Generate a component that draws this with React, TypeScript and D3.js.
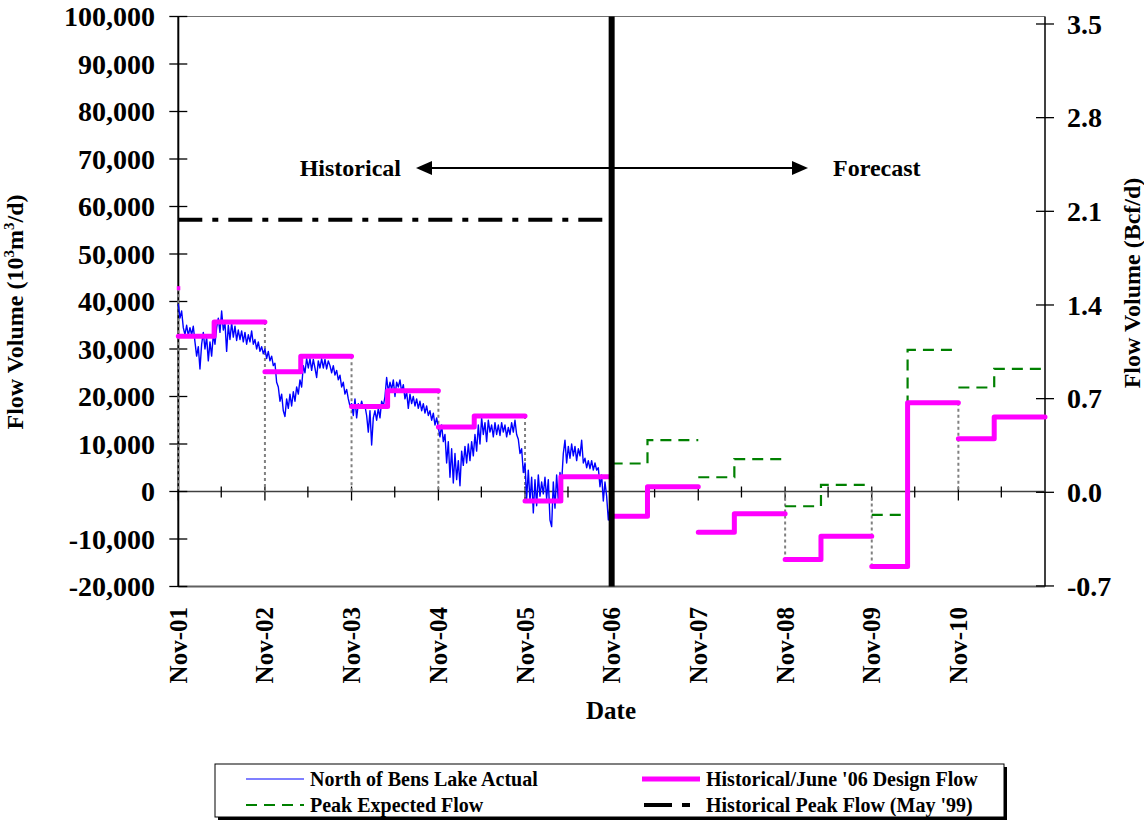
import React from "react";
import * as d3 from "d3";

// ---------- DATA ----------
const parse = d3.utcParse("%Y-%m-%d");

// North of Bens Lake Actual (10^3 m^3/d), roughly weekly readings Nov-01 .. Nov-06
const actualStart = "2001-11-01";
const actualEnd = "2006-11-01";
const actualFlow = [
  39500, 36500, 38000, 34500, 33000, 35000, 32800, 34500, 33000, 34800,
  31500, 28500, 30500, 25800, 31000, 33500, 30000, 32500, 27500, 31500,
  28500, 33000, 31000, 34500, 36500, 33500, 38000, 34000, 35500, 29500,
  35000, 32000, 35500, 32500, 34800, 31800, 34000, 32000, 33800, 31500,
  33500, 31000, 33000, 31500, 33800, 31000, 32000, 30000, 31500, 29500,
  30500, 29000,
  30000, 28000, 29500, 27500, 28500, 26500, 27000, 23000, 22000, 19000,
  20500, 17000, 15800, 19500, 17500, 20500, 18000, 21000, 19000, 22000,
  20500, 23500, 22000, 26500, 25000, 28000, 26000, 28000, 25500, 27800,
  26000, 24000, 27500, 26000, 28000, 26000, 27800, 25800, 27500, 26500,
  25000, 26500, 24500, 25500, 23500, 24500, 22000, 23000, 20500, 21500,
  19500, 18000,
  18500, 16000, 19500, 15500, 18500, 17500, 19000, 17500, 18000, 16000,
  12500, 17000, 9800, 15500, 17000, 15000, 17500, 15500, 19000, 18000,
  20000, 24000, 21000, 23000, 21500, 23500, 20000, 23000, 22000, 23500,
  21000, 22500, 19500, 21000, 17500, 20500, 18500, 20000, 18000, 19500,
  17500, 19000, 17000, 18500, 16500, 18000, 16000, 17000, 15000, 16500,
  14000, 15500,
  13500, 11500, 14000, 10500, 12000, 6000, 10500, 3000, 9000, 1800,
  8000, 2500, 6500, 1200, 8500, 5500, 9500, 6000, 10000, 6500,
  10500, 7500, 12000, 8500, 14000, 10000, 15500, 12000, 14500, 10500,
  15000, 12500, 14000, 11500, 14500, 12000, 14000, 11800, 14500, 12500,
  14000, 11500, 13500, 12000, 14500, 12500, 15000, 12000, 11000, 8000,
  9000, 4000,
  6000, -1500, 4500, -2000, 3000, -4500, 2500, -3000, 3500, -1000,
  2000, -500, 3000, -1500, 2500, -6000, -7400, 2000, -3500, 3500,
  -2000, 4000, 2000, 8000, 10800, 6000, 9500, 7000, 10000, 7500,
  9500, 6500, 9000, 7500, 10800, 6000, 7000, 5000, 6500, 4800,
  6500, 4500, 6000, 4500, 5000, 1000, 3500, -2000, 2000, -1000,
  -6000, -3000, -5000,
];

// Historical / June '06 Design Flow (steps: Nov and Apr)
const designDates = [
  "2001-11-01", "2002-04-01", "2002-11-01", "2003-04-01", "2003-11-01",
  "2004-04-01", "2004-11-01", "2005-04-01", "2005-11-01", "2006-04-01",
  "2006-11-01", "2007-04-01", "2007-11-01", "2008-04-01", "2008-11-01",
  "2009-04-01", "2009-11-01", "2010-04-01", "2010-11-01", "2011-04-01",
];
const designEnd = "2011-11-01";
const designFlow = [
  32700, 35700, 25200, 28500, 17900, 21200, 13600, 15900, -2000, 3100,
  -5200, 1000, -8600, -4700, -14300, -9400, -15800, 18700, 11100, 15700,
];
const designStartPoint = { date: "2001-11-01", value: 42800 };

// Peak Expected Flow (forecast)
const peakDates = [
  "2006-11-01", "2007-04-01", "2007-11-01", "2008-04-01", "2008-11-01",
  "2009-04-01", "2009-11-01", "2010-04-01", "2010-11-01", "2011-04-01",
];
const peakEnd = "2011-11-01";
const peakFlow = [5900, 10800, 3000, 6800, -3100, 1400, -4900, 29800, 21900, 25800];

// Historical Peak Flow (May '99)
const histPeakFlow = 57200;
const histPeakFrom = "2001-11-01";
const histPeakTo = "2006-11-01";

// dotted drop lines at year boundaries
const dropDates = ["2001-11-01", "2002-11-01", "2003-11-01", "2004-11-01", "2005-11-01", "2008-11-01", "2009-11-01", "2010-11-01"];
const dropHigh = [42800, 35700, 28500, 21200, 15900, 0, 0, 18700];
const dropLow = [0, 0, 0, 0, -2000, -14300, -15800, 0];

// axes
const xDomain = ["2001-11-01", "2011-11-01"];
const xMajorTicks = ["2001-11-01", "2002-11-01", "2003-11-01", "2004-11-01", "2005-11-01", "2006-11-01", "2007-11-01", "2008-11-01", "2009-11-01", "2010-11-01"];
const xMajorLabels = ["Nov-01", "Nov-02", "Nov-03", "Nov-04", "Nov-05", "Nov-06", "Nov-07", "Nov-08", "Nov-09", "Nov-10"];
const xMinorTicks = ["2002-05-01", "2003-05-01", "2004-05-01", "2005-05-01", "2006-05-01", "2007-05-01", "2008-05-01", "2009-05-01", "2010-05-01", "2011-05-01"];
const yTicks = [-20000, -10000, 0, 10000, 20000, 30000, 40000, 50000, 60000, 70000, 80000, 90000, 100000];
const yTickLabels = ["-20,000", "-10,000", "0", "10,000", "20,000", "30,000", "40,000", "50,000", "60,000", "70,000", "80,000", "90,000", "100,000"];
const yRTicks = [-0.7, 0, 0.7, 1.4, 2.1, 2.8, 3.5];
const yRTickLabels = ["-0.7", "0.0", "0.7", "1.4", "2.1", "2.8", "3.5"];
const forecastDate = "2006-11-01";

const FONT = "'Liberation Serif', 'Times New Roman', serif";

export default function App() {
  const L = 178.3, R = 1045, T = 16.5, B = 586.5;
  const x = d3.scaleUtc().domain(xDomain.map((s) => parse(s)!)).range([L, R]);
  const y = d3.scaleLinear().domain([-20000, 100000]).range([B, T]);
  const yR = d3.scaleLinear().domain([-0.704, 3.556]).range([B, T]);
  const y0 = y(0);

  // actual series
  const aS = parse(actualStart)!.getTime();
  const aE = parse(actualEnd)!.getTime();
  const n = actualFlow.length;
  const actualPts: [Date, number][] = actualFlow.map((v, i) => [new Date(aS + (i * (aE - aS)) / (n - 1)), v]);
  const lineGen = d3.line<[Date, number]>().x((d) => x(d[0])).y((d) => y(d[1]));

  const stepPaths = (dates: string[], vals: number[], end: string) => {
    const out: string[] = [];
    for (let k = 0; k < dates.length; k += 2) {
      const a = x(parse(dates[k])!);
      const b = x(parse(dates[k + 1])!);
      const c = x(parse(k + 2 < dates.length ? dates[k + 2] : end)!);
      out.push(`M${a},${y(vals[k])}H${b}V${y(vals[k + 1])}H${c}`);
    }
    return out;
  };
  const designP = stepPaths(designDates, designFlow, designEnd);
  const peakP = stepPaths(peakDates, peakFlow, peakEnd);

  const xf = x(parse(forecastDate)!);

  return (
    <svg width={1144} height={822} style={{ position: "absolute", left: 0, top: 0, background: "#fff" }} fontFamily={FONT} fontWeight="bold">
      <rect x={0} y={0} width={1144} height={822} fill="#fff" />
      {/* frame */}
      <line x1={L} x2={R} y1={T} y2={T} stroke="#707070" strokeWidth={1} />
      <line x1={L} x2={R} y1={B} y2={B} stroke="#606060" strokeWidth={2} />
      <line x1={R} x2={R} y1={T} y2={B} stroke="#404040" strokeWidth={2} />
      {/* zero axis */}
      <line x1={L} x2={R} y1={y0} y2={y0} stroke="#404040" strokeWidth={1.5} />
      {xMajorTicks.map((t) => (
        <line key={t} x1={x(parse(t)!)} x2={x(parse(t)!)} y1={y0 - 5} y2={y0 + 9} stroke="#000" strokeWidth={1.3} />
      ))}
      {xMinorTicks.map((t) => (
        <line key={t} x1={x(parse(t)!)} x2={x(parse(t)!)} y1={y0 - 5} y2={y0 + 6} stroke="#000" strokeWidth={1.3} />
      ))}
      {/* left axis */}
      <line x1={L} x2={L} y1={T} y2={B} stroke="#000" strokeWidth={2} />
      {yTicks.map((t, i) => (
        <g key={t}>
          <line x1={L - 9} x2={L + 9} y1={y(t)} y2={y(t)} stroke="#000" strokeWidth={1.3} />
          <text x={155} y={y(t)} dy="0.35em" textAnchor="end" fontSize={28}>
            {yTickLabels[i]}
          </text>
        </g>
      ))}
      {/* right axis */}
      {yRTicks.map((t, i) => (
        <g key={t}>
          <line x1={R - 9} x2={R + 9} y1={yR(t)} y2={yR(t)} stroke="#000" strokeWidth={1.3} />
          <text x={1067} y={yR(t)} dy="0.35em" textAnchor="start" fontSize={28}>
            {yRTickLabels[i]}
          </text>
        </g>
      ))}
      {/* x labels */}
      {xMajorTicks.map((t, i) => {
        const px = x(parse(t)!);
        return (
          <text key={t} transform={`translate(${px + 8.5},607) rotate(-90)`} textAnchor="end" fontSize={25}>
            {xMajorLabels[i]}
          </text>
        );
      })}
      <text x={611} y={719} textAnchor="middle" fontSize={25}>Date</text>
      <text transform="translate(23,312) rotate(-90)" textAnchor="middle" fontSize={24}>
        Flow Volume (10<tspan dy={-9} fontSize={15}>3</tspan>
        <tspan dy={9}>m</tspan>
        <tspan dy={-9} fontSize={15}>3</tspan>
        <tspan dy={9}>/d)</tspan>
      </text>
      <text transform="translate(1140,283) rotate(-90)" textAnchor="middle" fontSize={24}>
        Flow Volume (Bcf/d)
      </text>

      {/* drop lines */}
      {dropDates.map((d, i) => (
        <line key={d} x1={x(parse(d)!)} x2={x(parse(d)!)} y1={y(dropHigh[i])} y2={y(dropLow[i])} stroke="#808080" strokeWidth={2} strokeDasharray="3,3" />
      ))}

      {/* historical peak */}
      <line x1={x(parse(histPeakFrom)!)} x2={x(parse(histPeakTo)!)} y1={y(histPeakFlow)} y2={y(histPeakFlow)} stroke="#000" strokeWidth={4} strokeDasharray="24,10,6,10" />

      {/* actual */}
      <path d={lineGen(actualPts) || ""} fill="none" stroke="#0000ff" strokeWidth={1.4} strokeLinejoin="round" />

      {/* peak expected */}
      {peakP.map((p, i) => (
        <path key={i} d={p} fill="none" stroke="#008000" strokeWidth={2.2} strokeDasharray="11,7" />
      ))}

      {/* design flow */}
      {designP.map((p, i) => (
        <path key={i} d={p} fill="none" stroke="#ff00ff" strokeWidth={5} strokeLinecap="round" strokeLinejoin="round" />
      ))}
      <rect x={x(parse(designStartPoint.date)!) - 1.5} y={y(designStartPoint.value) - 2} width={3.5} height={4} fill="#ff00ff" />

      {/* forecast divider */}
      <line x1={xf} x2={xf} y1={T} y2={B} stroke="#000" strokeWidth={6} />

      {/* arrow */}
      <line x1={428} x2={796} y1={168} y2={168} stroke="#000" strokeWidth={2} />
      <polygon points="416,168 432,161 432,175" fill="#000" />
      <polygon points="808,168 792,161 792,175" fill="#000" />
      <text x={401} y={176} textAnchor="end" fontSize={24}>Historical</text>
      <text x={833} y={176} textAnchor="start" fontSize={24}>Forecast</text>

      {/* legend */}
      <rect x={218} y={767} width={789} height={53} fill="#000" />
      <rect x={215} y={764} width={789} height={53} fill="#fff" stroke="#000" strokeWidth={1} />
      <line x1={246} x2={304} y1={779} y2={779} stroke="#0000ff" strokeWidth={1.2} />
      <text x={310} y={786} fontSize={20}>North of Bens Lake Actual</text>
      <line x1={642} x2={700} y1={779} y2={779} stroke="#ff00ff" strokeWidth={5} />
      <text x={706} y={786} fontSize={20}>Historical/June '06 Design Flow</text>
      <line x1={246} x2={304} y1={805} y2={805} stroke="#008000" strokeWidth={2.2} strokeDasharray="11,7" />
      <text x={310} y={812} fontSize={20}>Peak Expected Flow</text>
      <line x1={644} x2={700} y1={805} y2={805} stroke="#000" strokeWidth={4} strokeDasharray="28,10,8,10" />
      <text x={706} y={812} fontSize={20}>Historical Peak Flow (May '99)</text>
    </svg>
  );
}
